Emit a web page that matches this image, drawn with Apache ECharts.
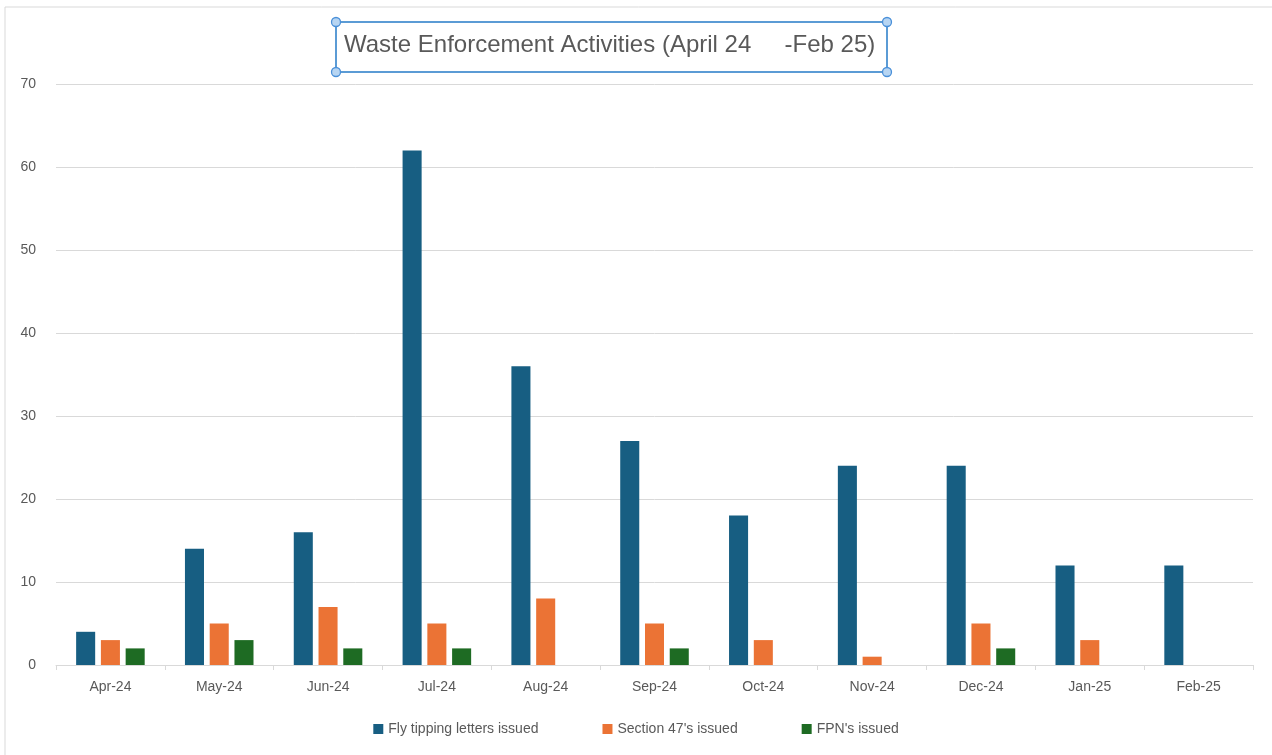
<!DOCTYPE html>
<html><head><meta charset="utf-8">
<script src="https://cdn.jsdelivr.net/npm/echarts@6/dist/echarts.min.js"></script>
<style>html,body{margin:0;padding:0;background:#fff}#c{width:1272px;height:755px}</style>
</head><body><div id="c"></div>
<script>
const categories = ['Apr-24','May-24','Jun-24','Jul-24','Aug-24','Sep-24','Oct-24','Nov-24','Dec-24','Jan-25','Feb-25'];
const flyTipping = [4,14,16,62,36,27,18,24,24,12,12];
const section47 = [3,5,7,5,8,5,3,1,5,3,0];
const fpn = [2,3,2,2,0,2,0,0,2,0,0];
const seriesNames = ['Fly tipping letters issued',"Section 47's issued","FPN's issued"];
const titleText = 'Waste Enforcement Activities (April 24     -Feb 25)';

const FONT = '"Liberation Sans Narrow", "Liberation Sans", Arial, sans-serif';
const chart = echarts.init(document.getElementById('c'));
const handle = (x,y)=>({type:'circle',shape:{cx:x,cy:y,r:4.5},style:{fill:'#b7d5f2',stroke:'#4a90d9',lineWidth:1.3},z:10});
chart.setOption({
  animation:false,
  title:{show:false},
  graphic:[
    {type:'line',shape:{x1:5,y1:7,x2:1272,y2:7},style:{stroke:'#d9d9d9',lineWidth:1}},
    {type:'line',shape:{x1:5,y1:7,x2:5,y2:755},style:{stroke:'#d9d9d9',lineWidth:1}},
    {type:'rect',shape:{x:336,y:22,width:551,height:50},style:{fill:'none',stroke:'#5b9bd5',lineWidth:2},z:9},
    handle(336,22),handle(887,22),handle(336,72),handle(887,72),
    {type:'text',left:344,top:33,style:{text:titleText,font:'24px '+FONT,fill:'#595959'},z:11}
  ],
  legend:{
    data:seriesNames,bottom:14,left:'center',itemWidth:10,itemHeight:10,itemGap:64,icon:'rect',
    textStyle:{fontFamily:FONT,fontSize:14,color:'#595959'}
  },
  grid:{left:56,right:19,top:84,bottom:90,containLabel:false},
  xAxis:{
    type:'category',data:categories,
    axisLine:{lineStyle:{color:'#d9d9d9'}},
    axisTick:{show:true,length:5,lineStyle:{color:'#d9d9d9'}},
    axisLabel:{fontFamily:FONT,fontSize:14,color:'#595959',margin:15}
  },
  yAxis:{
    type:'value',min:0,max:70,interval:10,
    axisLine:{show:false},axisTick:{show:false},
    splitLine:{lineStyle:{color:'#d9d9d9'}},
    axisLabel:{fontFamily:FONT,fontSize:14,color:'#595959',margin:20}
  },
  series:[
    {name:seriesNames[0],type:'bar',data:flyTipping,itemStyle:{color:'#175e82'},barGap:'30%',barCategoryGap:'37%'},
    {name:seriesNames[1],type:'bar',data:section47,itemStyle:{color:'#eb7335'}},
    {name:seriesNames[2],type:'bar',data:fpn,itemStyle:{color:'#1e6b23'}}
  ]
});
</script></body></html>
